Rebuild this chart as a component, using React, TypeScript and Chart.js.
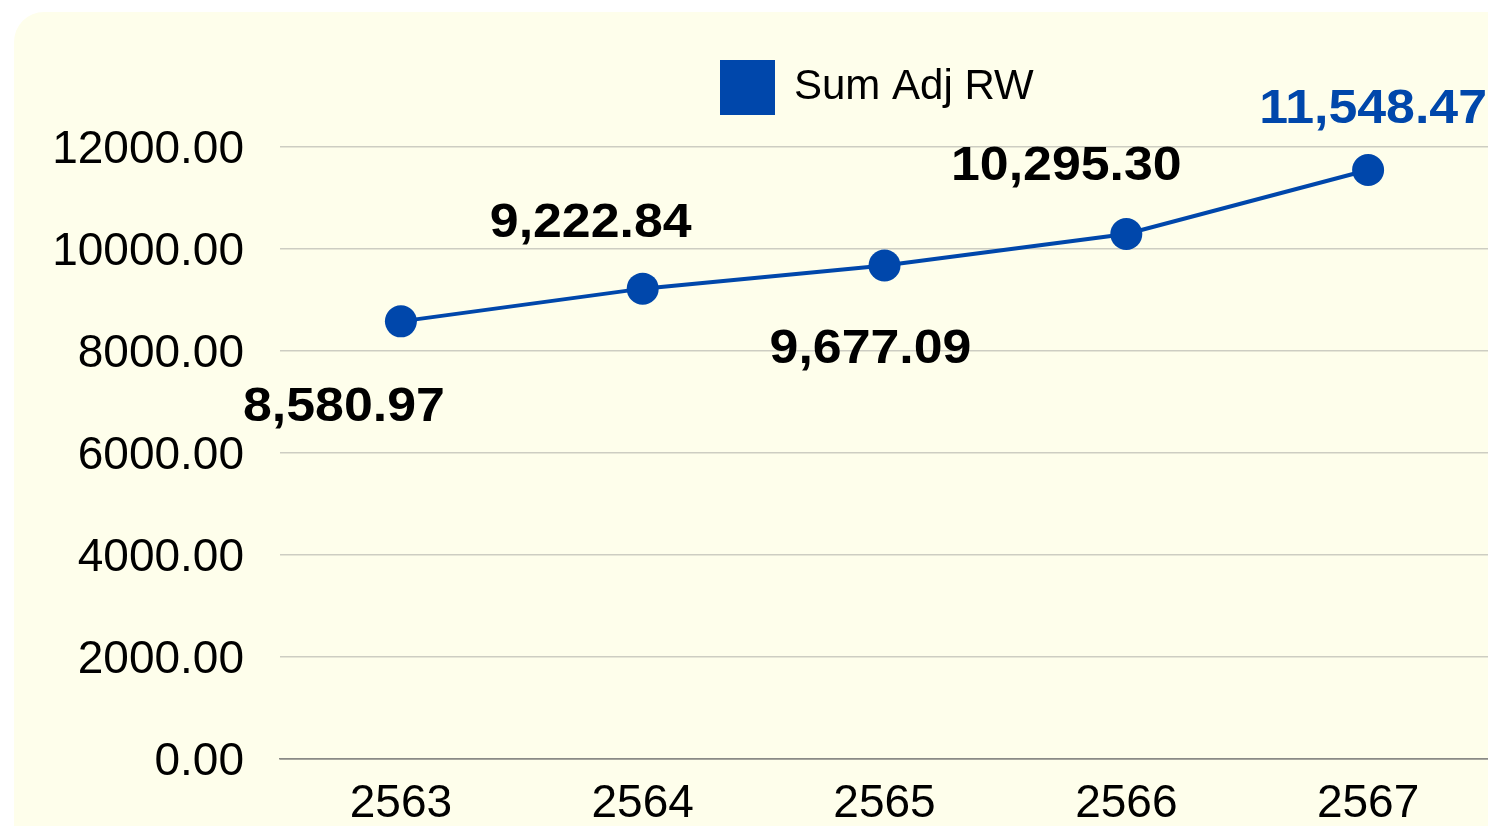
import React, { useEffect, useRef } from "react";
import { Chart, registerables } from "chart.js";

Chart.register(...registerables);

const categories = ["2563", "2564", "2565", "2566", "2567"];
const sumAdjRW = [8580.97, 9222.84, 9677.09, 10295.3, 11548.47];
const yTicks = [0, 2000, 4000, 6000, 8000, 10000, 12000];
const seriesLabel = "Sum Adj RW";

const BLUE = "#0047AB";
const LABEL_COLORS = ["#000000", "#000000", "#000000", "#000000", BLUE];
// label centre offsets from each point (styling)
const LABEL_OFFSETS: [number, number][] = [
  [-57, 86],
  [-52, -65],
  [-14, 84],
  [-60, -67],
  [5, -60],
];

const fmt = (v: number) =>
  v.toLocaleString("en-US", { minimumFractionDigits: 2, maximumFractionDigits: 2 });

const dataLabelPlugin = {
  id: "dataLabels",
  afterDatasetsDraw(chart: any) {
    const ctx = chart.ctx;
    const meta = chart.getDatasetMeta(0);
    ctx.save();
    ctx.font = "bold 48px 'Liberation Sans', Arial, sans-serif";
    ctx.textAlign = "center";
    ctx.textBaseline = "middle";
    meta.data.forEach((pt: any, i: number) => {
      const [dx, dy] = LABEL_OFFSETS[i];
      ctx.save();
      ctx.translate(pt.x + dx, pt.y + dy);
      ctx.scale(1.08, 1);
      ctx.fillStyle = LABEL_COLORS[i];
      ctx.fillText(fmt(sumAdjRW[i]), 0, 0);
      ctx.restore();
    });
    ctx.restore();
  },
};

const legendPlacer = {
  id: "legendPlacer",
  afterLayout(chart: any) {
    const lg = chart.legend;
    if (!lg || !lg.lineWidths) return;
    const pad = lg.options.labels.padding;
    const cursorX = (lg.left + pad + lg.right - lg.lineWidths[0]) / 2;
    const cursorY = lg.top + pad;
    const dx = 708 - cursorX;
    const dy = 50 - cursorY;
    lg.left += dx;
    lg.right += dx;
    lg.top += dy;
    lg.bottom += dy;
  },
};

export default function App() {
  const ref = useRef<HTMLCanvasElement>(null);
  useEffect(() => {
    if (!ref.current) return;
    const chart = new Chart(ref.current, {
      type: "line",
      data: {
        labels: categories,
        datasets: [
          {
            label: seriesLabel,
            data: sumAdjRW,
            borderColor: BLUE,
            backgroundColor: BLUE,
            borderWidth: 4,
            pointRadius: 16,
            pointHoverRadius: 16,
            pointBackgroundColor: BLUE,
            pointBorderColor: BLUE,
            pointBorderWidth: 0,
            tension: 0,
            clip: false as any,
          },
        ],
      },
      options: {
        animation: false,
        responsive: false,
        maintainAspectRatio: false,
        layout: { padding: { top: 64, right: 25, bottom: 0, left: 0 } },
        plugins: {
          tooltip: { enabled: false },
          legend: {
            display: true,
            position: "top",
            labels: {
              boxWidth: 51,
              boxHeight: 51,
              padding: 10,
              color: "#000000",
              font: { family: "'Liberation Sans', Arial, sans-serif", size: 42 },
            },
          },
        },
        scales: {
          x: {
            offset: true,
            grid: { display: false, drawTicks: false },
            border: { display: true, color: "#8a8a86", width: 1.5 },
            ticks: {
              color: "#000000",
              padding: 18,
              font: { family: "'Liberation Sans', Arial, sans-serif", size: 46 },
            },
            afterFit: (s: any) => {
              s.height = 67;
            },
          },
          y: {
            min: 0,
            max: 12000,
            afterBuildTicks: (s: any) => {
              s.ticks = yTicks.map((v) => ({ value: v }));
            },
            grid: {
              drawTicks: false,
              color: (c: any) => (c.tick && c.tick.value === 0 ? "#8a8a86" : "#cdcdc2"),
              lineWidth: 1.5,
            },
            border: { display: false },
            ticks: {
              color: "#000000",
              padding: 36,
              labelOffset: 3,
              font: { family: "'Liberation Sans', Arial, sans-serif", size: 46 },
              callback: (v: any) => Number(v).toFixed(2),
            },
            afterFit: (s: any) => {
              s.width = 266;
            },
          },
        },
      },
      plugins: [dataLabelPlugin, legendPlacer],
    });
    return () => chart.destroy();
  }, []);

  return (
    <div
      style={{
        position: "fixed",
        left: 0,
        top: 0,
        width: 1488,
        height: 826,
        overflow: "hidden",
        background: "#ffffff",
      }}
    >
      <div
        style={{
          position: "absolute",
          left: 14,
          top: 12,
          width: 1600,
          height: 900,
          borderRadius: 30,
          background: "#FEFEEB",
          overflow: "hidden",
        }}
      >
        <canvas ref={ref} width={1500} height={814} style={{ display: "block" }} />
      </div>
    </div>
  );
}
